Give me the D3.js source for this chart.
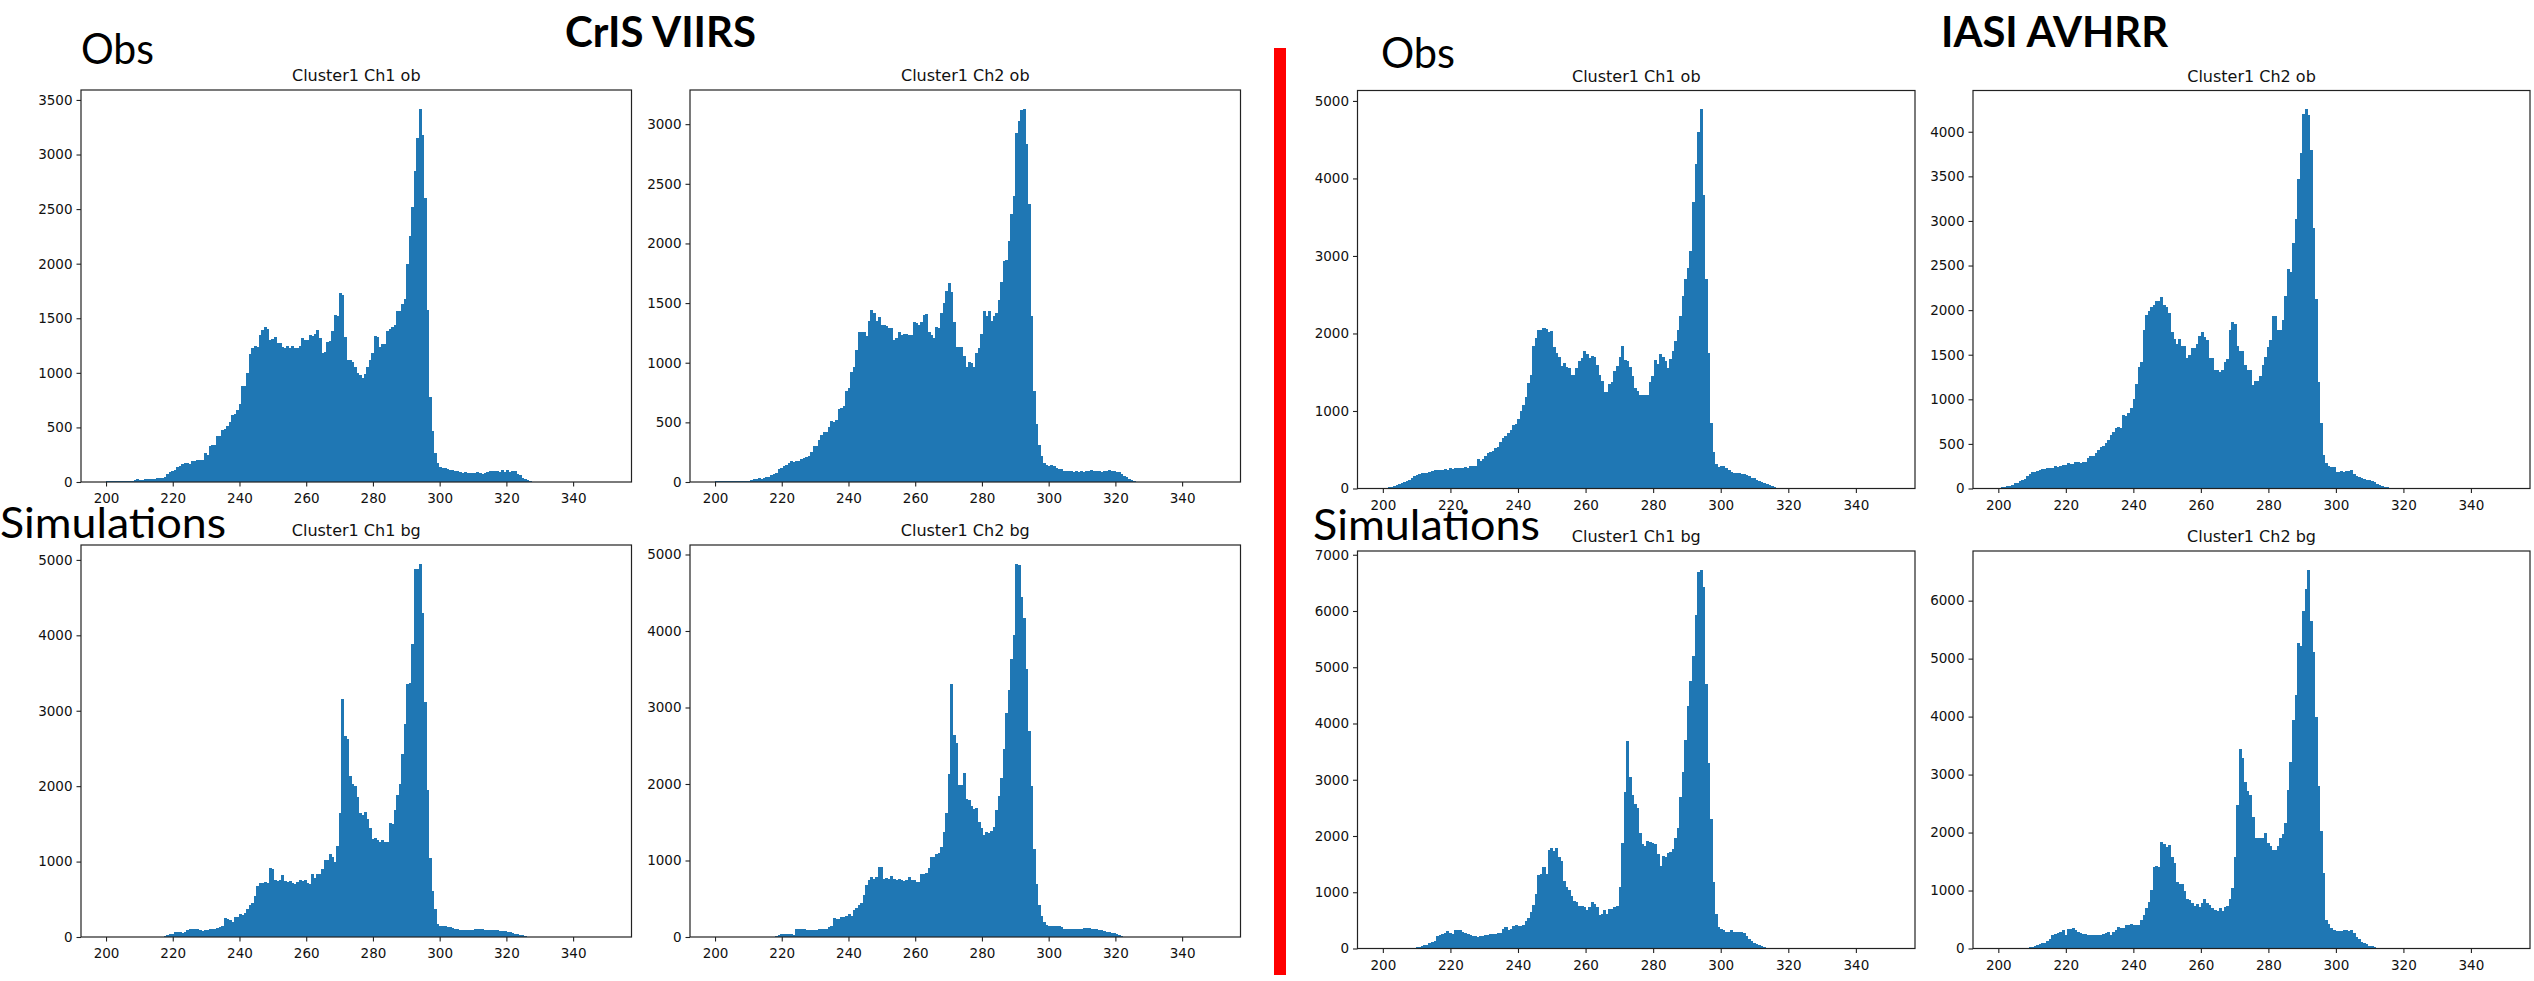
<!DOCTYPE html>
<html>
<head>
<meta charset="utf-8">
<script src="https://cdn.jsdelivr.net/npm/d3@7"></script>
<style>
html, body { margin: 0; padding: 0; background: #fff; }
svg { display: block; }
</style>
</head>
<body>
<script>
// 200 bins of 0.75 K from 200 K to 350 K (counts)
var binStart = 200;
var binWidth = 0.75;
var binEnd = 350;
var xTicks = [200, 220, 240, 260, 280, 300, 320, 340];

// CrIS VIIRS, observations
var crisCh1Ob = [
	8,8,5,5,10,10,12,10,10,12, 10,15,25,20,15,25,28,28,30,30,
	35,38,40,50,70,90,100,110,135,150, 165,175,170,165,190,195,198,200,205,270,
	250,330,335,340,420,420,475,485,510,550, 610,625,660,710,880,880,1000,1170,1230,1250,
	1240,1350,1390,1420,1400,1300,1310,1330,1270,1270, 1240,1230,1250,1230,1250,1230,1230,1250,1320,1300,
	1300,1350,1340,1360,1390,1320,1180,1190,1280,1290, 1380,1530,1520,1730,1710,1330,1120,1120,1100,1050,
	1000,980,950,990,1050,1120,1180,1340,1330,1240, 1260,1260,1380,1400,1420,1440,1570,1570,1630,1680,
	2000,2250,2520,2850,3150,3420,3180,2600,1580,780, 470,270,170,140,130,130,120,110,110,100,
	105,90,80,90,80,80,80,80,90,85, 70,80,90,100,100,100,100,95,110,90,
	110,95,100,100,70,60,40,30,15,5
];
var crisCh2Ob = [
	5,5,8,10,12,12,10,10,12,10, 12,10,10,12,15,25,25,30,28,30,
	40,45,60,70,75,110,115,130,140,160, 180,165,175,180,195,200,210,220,250,300,
	300,350,390,420,420,460,510,500,520,610, 620,640,760,790,920,960,1110,1260,1260,1260,
	1220,1350,1440,1420,1350,1380,1320,1320,1310,1290, 1290,1190,1210,1260,1230,1240,1240,1230,1230,1340,
	1330,1320,1340,1400,1410,1260,1230,1210,1300,1290, 1420,1500,1600,1670,1590,1340,1130,1130,1130,1060,
	960,1010,1000,960,1080,1120,1240,1430,1390,1430, 1350,1390,1420,1530,1680,1850,1860,2020,2250,2400,
	2930,3030,3120,3130,2830,2330,1390,760,490,310, 220,160,140,130,140,135,120,110,110,90,
	95,90,90,85,90,85,90,85,90,95, 100,95,90,90,85,90,95,100,95,90,
	85,80,70,50,40,25,15,5,3
];

// CrIS VIIRS, simulations
var crisCh1Bg = [
	0,0,0,0,0,0,0,0,0,0, 0,0,0,0,0,0,0,0,0,0,
	0,0,0,10,30,40,45,70,65,60, 50,70,90,100,105,110,100,95,85,90,
	95,100,110,110,115,130,140,250,240,230, 200,260,270,300,290,320,370,420,450,550,
	680,710,720,730,720,920,900,760,740,760, 820,740,730,740,720,700,730,760,740,750,
	720,700,840,780,840,830,900,1020,1020,1100, 1060,1000,1200,1640,3160,2670,2620,2140,2030,2000,
	1860,1640,1620,1660,1560,1440,1300,1310,1290,1260, 1280,1260,1260,1510,1500,1690,1880,2030,2430,2820,
	3350,3370,3880,4880,4880,4950,4300,3120,1950,1050, 610,370,170,140,150,150,130,130,120,110,
	100,95,90,90,95,90,95,100,100,100, 100,95,95,90,90,95,90,85,80,75,
	65,60,50,40,35,25,20,10,5
];
var crisCh2Bg = [
	0,0,0,0,0,0,0,0,0,0, 0,0,0,0,0,0,0,0,0,0,
	0,0,0,0,10,30,40,45,40,40, 40,30,100,110,110,100,95,90,90,95,
	90,100,105,110,110,130,150,250,240,240, 260,260,270,300,280,350,380,420,440,550,
	680,740,790,760,790,910,910,760,770,760, 800,760,750,760,740,730,750,780,750,740,
	720,720,820,830,840,900,1040,1040,1080,1100, 1180,1370,1620,2130,3310,2640,2530,1990,1990,2150,
	1800,1790,1710,1670,1680,1500,1420,1330,1370,1360, 1380,1440,1660,1840,2080,2460,2930,3230,3630,3950,
	4880,4860,4440,4170,3500,2690,1980,1150,690,420, 280,200,160,150,150,140,140,150,130,100,
	100,100,100,100,105,110,110,120,115,120, 110,105,100,95,85,80,70,60,55,50,
	35,20,12,5
];

// IASI AVHRR, observations
var iasiCh1Ob = [
	5,10,20,25,30,40,55,70,80,100, 115,135,160,180,190,195,200,205,210,220,
	235,240,245,245,250,240,260,250,270,265, 265,265,275,270,285,290,290,380,350,380,
	420,460,470,480,520,540,600,650,680,720, 760,820,830,900,1000,1080,1180,1360,1460,1840,
	1940,2050,2040,2070,2060,2020,2030,1830,1750,1690, 1580,1620,1570,1550,1460,1470,1560,1640,1680,1780,
	1740,1680,1710,1700,1590,1470,1390,1240,1250,1350, 1380,1520,1580,1690,1840,1660,1650,1570,1450,1300,
	1260,1200,1200,1200,1210,1370,1450,1660,1600,1740, 1700,1650,1560,1670,1780,1900,2040,2220,2480,2700,
	2840,3070,3700,4190,4600,4890,3780,2700,1750,840, 470,320,280,290,290,260,240,210,200,200,
	200,190,190,170,160,140,130,115,100,85, 70,55,40,30,20,10,5,2
];
var iasiCh2Ob = [
	5,15,20,25,25,35,60,65,85,100, 110,140,160,190,180,200,210,215,220,230,
	230,235,255,240,250,260,265,290,280,270, 300,295,290,295,300,340,370,360,400,430,
	460,480,510,540,600,630,680,690,680,820, 810,850,900,1000,1170,1360,1420,1780,1950,1990,
	2030,2060,2100,2100,2150,2060,2030,1970,1760,1680, 1620,1680,1600,1600,1460,1500,1570,1570,1620,1710,
	1760,1700,1670,1460,1460,1330,1330,1310,1330,1420, 1450,1780,1870,1850,1600,1540,1540,1380,1330,1330,
	1160,1210,1200,1260,1390,1470,1590,1670,1930,1930, 1780,1780,1890,2160,2460,2430,2750,3020,3470,3760,
	4200,4250,4190,3800,2920,2130,1190,730,380,290, 250,240,240,180,180,200,190,200,200,210,
	160,140,130,120,110,100,90,80,70,55, 40,30,20,12,5
];

// IASI AVHRR, simulations
var iasiCh1Bg = [
	0,0,0,0,0,0,0,0,0,0, 0,0,0,30,35,40,55,70,90,110,
	140,220,240,260,280,310,270,250,320,330, 320,300,280,250,235,230,220,210,225,230,
	235,240,250,260,265,270,280,350,390,330, 350,400,410,405,400,420,480,550,640,780,
	960,1300,1330,1450,1320,1750,1790,1730,1790,1630, 1550,1200,1100,1040,930,840,830,760,760,730,
	690,740,820,790,740,600,620,690,620,700, 700,740,760,1100,1880,2780,3680,3050,2730,2560,
	2500,2060,1850,1830,1910,1890,1870,1850,1680,1460, 1650,1630,1700,1720,1760,1960,2150,2700,3130,3700,
	4310,4750,5200,5930,6690,6730,6430,4700,3290,2300, 1180,620,380,350,320,290,300,320,290,285,
	290,300,280,230,170,130,100,75,55,40, 25,12,5
];
var iasiCh2Bg = [
	0,0,0,0,0,0,0,0,0,0, 0,0,20,30,40,55,70,90,100,130,
	170,240,245,260,290,320,240,340,340,350, 320,290,260,250,245,240,235,230,230,235,
	240,250,270,280,240,290,320,370,360,350, 400,410,430,400,400,400,500,580,700,800,
	1010,1400,1420,1400,1830,1800,1750,1780,1580,1470, 1150,1110,1110,1000,860,830,780,740,760,720,
	780,850,780,750,700,660,650,700,650,720, 740,850,1040,1570,2480,3440,3290,2880,2720,2640,
	2260,1910,1900,1900,1900,2000,1820,1760,1700,1700, 1760,1910,1980,2170,2730,3210,3940,4380,5270,5220,
	5830,6200,6530,5650,5120,3990,2810,2030,1310,500, 420,350,320,300,300,310,320,320,310,320,
	260,200,160,110,90,70,50,40,20,10
];

var titles = ["Cluster1 Ch1 ob", "Cluster1 Ch2 ob", "Cluster1 Ch1 ob", "Cluster1 Ch2 ob",
	"Cluster1 Ch1 bg", "Cluster1 Ch2 bg", "Cluster1 Ch1 bg", "Cluster1 Ch2 bg"];
var yTicks = [
	[0, 500, 1000, 1500, 2000, 2500, 3000, 3500],
	[0, 500, 1000, 1500, 2000, 2500, 3000],
	[0, 1000, 2000, 3000, 4000, 5000],
	[0, 500, 1000, 1500, 2000, 2500, 3000, 3500, 4000],
	[0, 1000, 2000, 3000, 4000, 5000],
	[0, 1000, 2000, 3000, 4000, 5000],
	[0, 1000, 2000, 3000, 4000, 5000, 6000, 7000],
	[0, 1000, 2000, 3000, 4000, 5000, 6000]
];
var series = [crisCh1Ob, crisCh2Ob, iasiCh1Ob, iasiCh2Ob, crisCh1Bg, crisCh2Bg, iasiCh1Bg, iasiCh2Bg];

// axes boxes on the slide: left, top, right, bottom
var boxes = [
	[81, 90, 631.5, 482], [690, 90, 1240.5, 482], [1357.5, 90.5, 1915, 488.5], [1973, 90.5, 2530, 488.5],
	[81, 545, 631.5, 937], [690, 545, 1240.5, 937], [1357.5, 551, 1915, 948.5], [1973, 551, 2530, 948.5]
];

var blue = '#1f77b4';
var svg = d3.select("body").append("svg")
	.attr("width", 2534)
	.attr("height", 981);

function drawPanel(box, counts, ticks, title) {
	// matplotlib style 5% margins round the bin range
	var pad = (binEnd-binStart)*0.05;
	var x = d3.scaleLinear().domain([binStart-pad, binEnd+pad]).range([box[0], box[2]]);
	var y = d3.scaleLinear().domain([0, d3.max(counts)*1.05]).range([box[3], box[1]]);
	var g = svg.append("g");

	var bins = counts.map(function(c, i) {
		return {'x0': binStart+i*binWidth, 'x1': binStart+(i+1)*binWidth, 'n': c};
	}).filter(function(b) { return b.n > 0; });

	g.selectAll("rect.bar")
		.data(bins)
		.enter()
			.append("rect")
				.attr("class", "bar")
				.attr("x", function(d) { return x(d.x0); })
				.attr("width", function(d) { return x(d.x1)-x(d.x0)+0.5; })
				.attr("y", function(d) { return y(d.n); })
				.attr("height", function(d) { return y(0)-y(d.n); })
				.attr("fill", blue)
				.attr("shape-rendering", "crispEdges");

	var xAxis = d3.axisBottom(x).tickValues(xTicks).tickSize(4.5).tickSizeOuter(0).tickPadding(7);
	var yAxis = d3.axisLeft(y).tickValues(ticks).tickSize(4.5).tickSizeOuter(0).tickPadding(4)
		.tickFormat(d3.format("d"));

	var gx = g.append("g").attr("transform", "translate(0,"+box[3]+")").call(xAxis);
	var gy = g.append("g").attr("transform", "translate("+box[0]+",0)").call(yAxis);
	[gx, gy].forEach(function(a) {
		a.select(".domain").remove();
		a.attr("font-family", "'DejaVu Sans', sans-serif").attr("font-size", 13.5);
		a.selectAll(".tick line").attr("stroke", "#222").attr("stroke-width", 1.1);
		a.selectAll(".tick text").attr("fill", "#111");
	});

	g.append("rect")
		.attr("x", box[0])
		.attr("y", box[1])
		.attr("width", box[2]-box[0])
		.attr("height", box[3]-box[1])
		.attr("fill", "none")
		.attr("stroke", "#222")
		.attr("stroke-width", 1.2);

	g.append("text")
		.attr("x", (box[0]+box[2])/2)
		.attr("y", box[1]-9)
		.attr("text-anchor", "middle")
		.attr("font-family", "'DejaVu Sans', sans-serif")
		.attr("font-size", 16)
		.attr("fill", "#111")
		.text(title);
}

for(var i = 0; i < series.length; i++) {
	drawPanel(boxes[i], series[i], yTicks[i], titles[i]);
}

// slide labels
function slideText(str, x, y, size, weight, len) {
	svg.append("text")
		.attr("x", x)
		.attr("y", y)
		.attr("font-family", "Lato, 'Open Sans', sans-serif")
		.attr("font-size", size)
		.attr("font-weight", weight)
		.attr("fill", "#000")
		.attr("textLength", len)
		.attr("lengthAdjust", "spacingAndGlyphs")
		.text(str);
}

slideText("CrIS VIIRS", 565, 47, 42, "bold", 191);
slideText("IASI AVHRR", 1941, 47, 42, "bold", 227);
slideText("Obs", 81, 64, 43, "normal", 73);
slideText("Obs", 1381, 68, 43, "normal", 74);
slideText("Simulations", 0, 538, 43, "normal", 226);
slideText("Simulations", 1313, 540, 43, "normal", 227);

// red divider between the two instrument pairs
svg.append("rect")
	.attr("x", 1274)
	.attr("y", 48)
	.attr("width", 12)
	.attr("height", 927)
	.attr("fill", "#ff0000");
</script>
</body>
</html>
